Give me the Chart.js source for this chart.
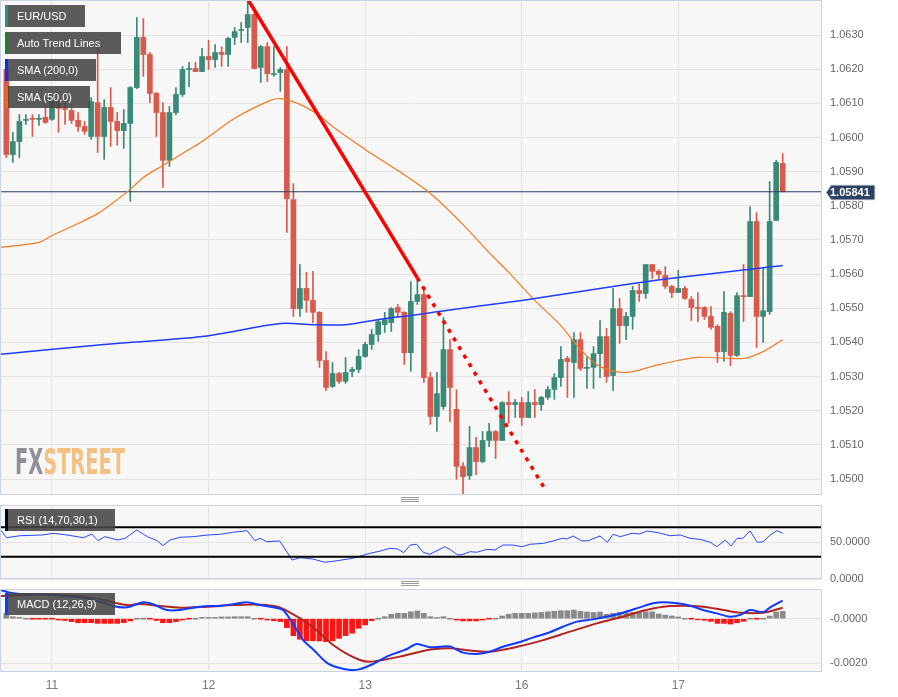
<!DOCTYPE html>
<html><head><meta charset="utf-8">
<script src="https://cdn.jsdelivr.net/npm/chart.js@4.4.1/dist/chart.umd.min.js"></script>
<style>
html,body{margin:0;padding:0;background:#fff}
body{width:898px;height:697px;overflow:hidden;position:relative;font-family:"Liberation Sans",Arial,sans-serif}
canvas{position:absolute;left:0}
.lg{position:absolute;left:5px;height:22px;line-height:22px;color:#fff;font-size:11px;background:rgba(70,70,70,0.88);padding-left:9px;box-sizing:border-box;border-left:3px solid #000;white-space:nowrap;z-index:5}
.wm{position:absolute;left:15px;top:444px;font-size:36px;line-height:36px;font-weight:bold;font-family:"Liberation Sans Narrow","DejaVu Sans Condensed","Liberation Sans",sans-serif;transform-origin:0 0;white-space:nowrap;z-index:4;letter-spacing:0px}
.hd{position:absolute;left:401px;width:18px;height:3px;border-top:1px solid #9a9a9a;border-bottom:1px solid #9a9a9a;z-index:5}
.hd:after{content:"";position:absolute;left:0;top:1px;width:18px;border-top:1px solid #9a9a9a}
</style>
</head><body>
<canvas id="cMain" width="898" height="495" style="top:0"></canvas>
<canvas id="cRsi" width="898" height="84" style="top:505px"></canvas>
<canvas id="cMacd" width="898" height="108" style="top:589px"></canvas>

<div class="lg" style="top:5px;width:80px;border-left-color:#3a8a78">EUR/USD</div>
<div class="lg" style="top:32px;width:116px;border-left-color:#0d8a1a">Auto Trend Lines</div>
<div class="lg" style="top:59px;width:91px;border-left-color:#0a2cff">SMA (200,0)</div>
<div class="lg" style="top:86px;width:85px;border-left-color:#f06a00">SMA (50,0)</div>
<div class="lg" style="top:509px;width:110px;border-left-color:#000">RSI (14,70,30,1)</div>
<div class="lg" style="top:593px;width:110px;border-left-color:#0b3bff">MACD (12,26,9)</div>
<div class="wm" id="wm"><span style="color:#8f9098">FX</span><span style="color:#f3c283">STREET</span></div>
<div class="hd" style="top:497px"></div>
<div class="hd" style="top:581px"></div>

<script>
const FONT = '"Liberation Sans", Arial, sans-serif';
const X_MIN = -0.97, X_MAX = 124.87;

const dayTicks = [7, 31, 55, 79, 103];
const dayLabels = ['11', '12', '13', '16', '17'];

const priceTicks = [1.0500,1.0510,1.0520,1.0530,1.0540,1.0550,1.0560,1.0570,1.0580,1.0590,1.0600,1.0610,1.0620,1.0630];
const priceTickLabels = ['1.0500','1.0510','1.0520','1.0530','1.0540','1.0550','1.0560','1.0570','1.0580','1.0590','1.0600','1.0610','1.0620','1.0630'];
const rsiTicks = [0, 50];
const rsiTickLabels = ['0.0000', '50.0000'];
const macdTicks = [-0.002, 0];
const macdTickLabels = ['-0.0020', '-0.0000'];

const lastPrice = 1.05841;

const opens = [1.06199,1.05950,1.05988,1.06050,1.06056,1.06053,1.06059,1.06053,1.06102,1.06085,
1.06079,1.06050,1.06032,1.06003,1.06102,1.06003,1.06088,1.06047,1.06020,1.06041,
1.06146,1.06293,1.06243,1.06129,1.06073,1.05933,1.06073,1.06126,1.06199,1.06202,
1.06193,1.06237,1.06228,1.06249,1.06243,1.06293,1.06313,1.06322,1.06360,1.06205,
1.06266,1.06184,1.06190,1.06199,1.05818,1.05499,1.05558,1.05523,1.05488,1.05347,
1.05271,1.05309,1.05286,1.05315,1.05321,1.05359,1.05394,1.05423,1.05452,1.05458,
1.05502,1.05488,1.05370,1.05520,1.05540,1.05297,1.05183,1.05212,1.05379,1.05204,
1.05037,1.05010,1.05092,1.05051,1.05113,1.05139,1.05113,1.05224,1.05218,1.05224,
1.05180,1.05224,1.05218,1.05239,1.05262,1.05297,1.05353,1.05341,1.05408,1.05324,
1.05327,1.05367,1.05417,1.05303,1.05499,1.05449,1.05476,1.05552,1.05543,1.05628,
1.05608,1.05596,1.05564,1.05546,1.05558,1.05526,1.05502,1.05502,1.05476,1.05447,
1.05373,1.05485,1.05362,1.05537,1.05534,1.05754,1.05476,1.05490,1.05757,1.05924];
const highs = [1.06205,1.06015,1.06067,1.06067,1.06067,1.06067,1.06094,1.06120,1.06111,1.06105,
1.06097,1.06073,1.06047,1.06117,1.06287,1.06111,1.06146,1.06073,1.06082,1.06149,
1.06351,1.06348,1.06249,1.06132,1.06102,1.06091,1.06146,1.06208,1.06220,1.06220,
1.06261,1.06284,1.06272,1.06266,1.06293,1.06322,1.06337,1.06398,1.06363,1.06269,
1.06278,1.06266,1.06205,1.06266,1.05865,1.05628,1.05605,1.05608,1.05490,1.05373,
1.05341,1.05312,1.05356,1.05327,1.05379,1.05400,1.05438,1.05467,1.05488,1.05502,
1.05511,1.05490,1.05578,1.05584,1.05555,1.05312,1.05312,1.05473,1.05408,1.05262,
1.05048,1.05154,1.05122,1.05139,1.05163,1.05142,1.05227,1.05256,1.05233,1.05239,
1.05256,1.05262,1.05242,1.05271,1.05309,1.05388,1.05359,1.05429,1.05429,1.05356,
1.05388,1.05464,1.05441,1.05558,1.05529,1.05488,1.05564,1.05570,1.05628,1.05628,
1.05613,1.05622,1.05567,1.05611,1.05564,1.05534,1.05546,1.05505,1.05505,1.05452,
1.05549,1.05490,1.05546,1.05628,1.05798,1.05780,1.05619,1.05871,1.05933,1.05953];
const lows = [1.05941,1.05927,1.05941,1.06038,1.06003,1.06035,1.06041,1.06050,1.06015,1.06038,
1.06041,1.06018,1.06009,1.05994,1.05956,1.05936,1.05974,1.05977,1.05968,1.05813,
1.06143,1.06179,1.06102,1.06003,1.05854,1.05915,1.06067,1.06120,1.06149,1.06193,
1.06193,1.06199,1.06205,1.06208,1.06208,1.06272,1.06278,1.06278,1.06202,1.06161,
1.06164,1.06179,1.06135,1.05722,1.05476,1.05476,1.05488,1.05458,1.05327,1.05259,
1.05268,1.05280,1.05280,1.05300,1.05312,1.05356,1.05379,1.05403,1.05429,1.05432,
1.05473,1.05335,1.05315,1.05511,1.05283,1.05160,1.05139,1.05204,1.05168,1.04999,
1.04955,1.04999,1.05013,1.05048,1.05095,1.05060,1.05113,1.05163,1.05180,1.05157,
1.05180,1.05180,1.05201,1.05233,1.05233,1.05271,1.05239,1.05239,1.05318,1.05265,
1.05265,1.05297,1.05283,1.05259,1.05397,1.05408,1.05438,1.05520,1.05529,1.05587,
1.05584,1.05558,1.05531,1.05546,1.05526,1.05464,1.05461,1.05467,1.05438,1.05341,
1.05344,1.05332,1.05359,1.05461,1.05534,1.05385,1.05400,1.05482,1.05757,1.05845];
const closes = [1.05950,1.05988,1.06047,1.06053,1.06053,1.06056,1.06044,1.06108,1.06085,1.06082,
1.06050,1.06032,1.06018,1.06105,1.06003,1.06088,1.06047,1.06020,1.06041,1.06146,
1.06293,1.06243,1.06129,1.06073,1.05933,1.06073,1.06126,1.06199,1.06202,1.06193,
1.06237,1.06228,1.06249,1.06243,1.06290,1.06310,1.06316,1.06360,1.06202,1.06266,
1.06187,1.06187,1.06199,1.05821,1.05499,1.05558,1.05523,1.05488,1.05347,1.05268,
1.05309,1.05286,1.05312,1.05321,1.05359,1.05394,1.05423,1.05461,1.05467,1.05499,
1.05488,1.05370,1.05520,1.05540,1.05297,1.05183,1.05250,1.05379,1.05268,1.05037,
1.05007,1.05092,1.05051,1.05113,1.05139,1.05113,1.05224,1.05218,1.05224,1.05180,
1.05224,1.05218,1.05239,1.05262,1.05297,1.05350,1.05344,1.05408,1.05324,1.05327,
1.05367,1.05417,1.05300,1.05499,1.05449,1.05476,1.05552,1.05543,1.05628,1.05608,
1.05599,1.05564,1.05546,1.05558,1.05529,1.05502,1.05499,1.05476,1.05444,1.05373,
1.05488,1.05362,1.05537,1.05534,1.05754,1.05476,1.05493,1.05754,1.05927,1.05841];

const sma200 = [[-1,1.05365],[0,1.05367],[15,1.05394],[30,1.05417],[42,1.05455],[47,1.05452],[52,1.05452],[58,1.05470],[62,1.05479],[66,1.05490],[79,1.05523],[93,1.05564],[103,1.05590],[119,1.05625]];
const sma50 = [[-1,1.05678],[5,1.05693],[7,1.05713],[11,1.05748],[14,1.05777],[16,1.05804],[19,1.05848],[21,1.05883],[24,1.05918],[27,1.05953],[30,1.05988],[35,1.06056],[40,1.06105],[42,1.06114],[45,1.06097],[48,1.06064],[50,1.06032],[55,1.05965],[60,1.05903],[65,1.05836],[70,1.05745],[74,1.05663],[77,1.05605],[81,1.05523],[85,1.05449],[88,1.05379],[91,1.05329],[95,1.05312],[100,1.05335],[106,1.05356],[113,1.05353],[116,1.05373],[119,1.05408]];
const trendSolid = [[37.04,1.06404],[63.0,1.05589]];
const trendDotted = [[63.0,1.05589],[82.7,1.04966]];

const rsiLevels = [70, 30];
const rsi = [[-0.97,67.2],[0.06,55.8],[2.1,58.5],[5.6,59.5],[7.2,61.8],[9.3,59.5],[11.8,55.8],[13.1,60.8],[14.05,51.8],[15.1,57.2],
[17.1,52.7],[18.2,55.0],[20.0,66.2],[21.6,57.2],[23.1,51.8],[24.0,45.0],[25.1,52.7],[26.6,56.4],[28.6,57.2],[30.9,59.5],
[32.8,60.4],[34.7,63.1],[36.9,65.3],[38.1,51.8],[38.9,55.0],[39.9,50.4],[41.9,51.4],[43.8,25.7],[45.0,28.8],[47.0,27.0],
[48.8,22.6],[50.7,24.7],[53.1,28.0],[55.3,33.8],[57.3,37.8],[58.8,41.5],[60.0,40.5],[60.9,35.5],[61.9,45.9],[62.9,46.9],
[63.9,36.1],[64.9,33.4],[67.2,43.6],[68.0,40.1],[69.2,32.4],[70.0,33.4],[71.1,36.9],[72.1,36.1],[73.7,40.1],[74.9,39.2],
[76.1,45.9],[77.7,45.9],[79.0,43.6],[80.3,46.9],[82.3,48.2],[83.8,51.4],[85.2,55.0],[85.9,54.1],[86.9,58.1],[88.2,51.4],
[89.2,51.8],[91.0,58.1],[92.1,49.6],[93.0,60.4],[94.1,57.2],[95.9,61.8],[97.1,60.8],[98.2,64.9],[99.9,62.6],[101.7,58.5],
[103.3,59.5],[104.8,55.0],[106.3,53.6],[107.9,49.6],[108.9,43.6],[110.2,52.7],[111.1,44.6],[112.0,55.0],[112.9,55.0],[114.0,64.9],
[115.1,49.6],[116.0,50.4],[117.1,59.5],[118.1,65.3],[119.0,61.8]];

const macdLine = [[-0.97,0.00129],[0.56,0.00117],[2.1,0.00111],[5.2,0.00109],[9.3,0.00102],[12.4,0.00091],[14.4,0.00076],[16.3,0.00057],[18.5,0.00051],[21.0,0.00074],
[22.5,0.00065],[24.6,0.00039],[26.6,0.00039],[29.7,0.00054],[32.8,0.00058],[34.7,0.00065],[36.9,0.00074],[38.9,0.00061],[40.9,0.00051],[42.4,0.00039],
[43.9,-0.00021],[45.5,-0.00096],[47.0,-0.00137],[49.1,-0.00197],[50.7,-0.00218],[52.7,-0.00230],[54.2,-0.00226],[56.2,-0.00203],[58.3,-0.00170],[60.3,-0.00148],
[61.4,-0.00136],[62.9,-0.00113],[64.9,-0.00128],[66.5,-0.00126],[68.0,-0.00124],[70.0,-0.00152],[72.1,-0.00158],[74.1,-0.00148],[76.1,-0.00126],[78.3,-0.00108],
[80.7,-0.00085],[83.3,-0.00061],[85.3,-0.00036],[87.5,-0.00013],[89.9,-0.00003],[92.5,0.00012],[94.5,0.00027],[97.1,0.00051],[99.1,0.00069],[100.7,0.00074],
[102.8,0.00069],[104.8,0.00058],[106.8,0.00039],[108.9,0.00024],[110.9,0.00009],[112.5,0.00017],[114.0,0.00039],[116.0,0.00029],[117.1,0.00051],[119.0,0.00081]];
const signalLine = [[-0.97,0.00102],[2.1,0.00106],[6.7,0.00109],[11.8,0.00099],[14.4,0.00087],[18.5,0.00061],[20.5,0.00066],[23.6,0.00057],[26.6,0.00049],[30.8,0.00054],
[34.7,0.00061],[37.8,0.00064],[39.9,0.00061],[41.9,0.00051],[43.9,0.00021],[46.1,-0.00018],[48.1,-0.00065],[50.1,-0.00118],[52.2,-0.00158],[54.2,-0.00185],
[55.7,-0.00193],[57.7,-0.00185],[60.3,-0.00170],[63.4,-0.00148],[65.4,-0.00137],[68.0,-0.00133],[71.1,-0.00143],[74.1,-0.00148],[78.3,-0.00126],[82.3,-0.00096],
[86.4,-0.00058],[90.5,-0.00021],[94.5,0.00009],[97.6,0.00036],[100.7,0.00054],[103.7,0.00058],[106.8,0.00054],[109.9,0.00039],[112.5,0.00027],[116.0,0.00027],[119.0,0.00049]];
const macdHist = [0.00024,0.00009,0.00006,0.00003,-0.00001,-0.00002,-0.00003,-0.00004,-0.00006,-0.00008,
-0.00013,-0.00018,-0.00018,-0.00018,-0.00021,-0.00021,-0.00021,-0.00021,-0.00018,-0.00010,
0.00003,0.00003,-0.00001,-0.00008,-0.00018,-0.00018,-0.00013,-0.00006,-0.00001,0.00004,
0.00006,0.00006,0.00006,0.00008,0.00008,0.00009,0.00009,0.00009,0.00003,-0.00001,
-0.00006,-0.00009,-0.00013,-0.00040,-0.00076,-0.00092,-0.00099,-0.00099,-0.00100,-0.00103,
-0.00099,-0.00088,-0.00076,-0.00065,-0.00043,-0.00028,-0.00009,0.00002,0.00009,0.00020,
0.00024,0.00024,0.00031,0.00035,0.00024,0.00009,0.00006,0.00009,0.00004,-0.00006,
-0.00010,-0.00010,-0.00010,-0.00006,-0.00001,0.00002,0.00012,0.00020,0.00024,0.00024,
0.00024,0.00026,0.00028,0.00031,0.00033,0.00036,0.00036,0.00039,0.00033,0.00030,
0.00028,0.00030,0.00020,0.00024,0.00028,0.00028,0.00028,0.00028,0.00031,0.00031,
0.00021,0.00016,0.00012,0.00008,0.00002,-0.00001,-0.00005,-0.00007,-0.00012,-0.00021,
-0.00021,-0.00024,-0.00018,-0.00012,0.00004,-0.00001,0.00001,0.00012,0.00030,0.00033];

const UP = '#3a8a78', DOWN = '#d9594b';
const idx = opens.map((_, i) => i);
const candleColor = idx.map(i => closes[i] >= opens[i] ? UP : DOWN);
const pts = arr => arr.map(p => ({x: p[0], y: p[1]}));
const flat = v => [{x: X_MIN, y: v}, {x: X_MAX, y: v}];

const panelPlugin = {
  id: 'panel',
  beforeDraw(c) {
    const a = c.chartArea, ctx = c.ctx;
    ctx.save(); ctx.fillStyle = '#f7f7f7';
    ctx.fillRect(a.left, a.top, a.right - a.left, a.bottom - a.top); ctx.restore();
  },
  afterDraw(c) {
    const a = c.chartArea, ctx = c.ctx;
    ctx.save(); ctx.strokeStyle = '#cbd2e3'; ctx.lineWidth = 1;
    ctx.strokeRect(a.left + 0.5, a.top + 0.5, a.right - a.left, a.bottom - a.top - 1); ctx.restore();
  }
};

const priceLabelPlugin = {
  id: 'priceLabel',
  afterDraw(c) {
    const ctx = c.ctx, a = c.chartArea;
    const y = Math.round(c.scales.y.getPixelForValue(lastPrice)) + 0.5;
    const x0 = a.right + 5, x1 = x0 + 5, x2 = x0 + 49;
    ctx.save();
    ctx.fillStyle = '#2d4263'; ctx.strokeStyle = '#dfe4ee'; ctx.lineWidth = 1;
    ctx.beginPath(); ctx.moveTo(x0, y); ctx.lineTo(x1, y - 7.5); ctx.lineTo(x2, y - 7.5);
    ctx.lineTo(x2, y + 7.5); ctx.lineTo(x1, y + 7.5); ctx.closePath(); ctx.fill(); ctx.stroke();
    ctx.fillStyle = '#fff'; ctx.font = 'bold 11px ' + FONT; ctx.textBaseline = 'middle';
    ctx.fillText(lastPrice.toFixed(5), x1 - 1, y + 0.5);
    ctx.restore();
  }
};

function opts(yMin, yMax, yTicks, yLabels, showX, xHeight) {
  return {
    responsive: false, animation: false, devicePixelRatio: 1,
    layout: {padding: 0},
    plugins: {legend: {display: false}, tooltip: {enabled: false}},
    elements: {point: {radius: 0}},
    scales: {
      x: {
        type: 'linear', min: X_MIN, max: X_MAX, offset: false,
        grid: {color: '#e4e4e4', drawTicks: false, offset: false},
        border: {display: false},
        ticks: {display: showX, font: {size: 12, family: FONT}, color: '#777', padding: 6, maxRotation: 0, autoSkip: false,
          callback: v => { const k = dayTicks.indexOf(v); return k >= 0 ? dayLabels[k] : ''; }},
        afterBuildTicks: s => { s.ticks = dayTicks.map(v => ({value: v})); },
        afterFit: s => { s.height = xHeight; s.paddingLeft = 0; s.paddingRight = 0; }
      },
      y: {
        type: 'linear', position: 'right', min: yMin, max: yMax,
        grid: {color: '#e4e4e4', drawTicks: false},
        border: {display: false},
        ticks: {font: {size: 11, family: FONT}, color: '#666', padding: 9, autoSkip: false,
          callback: v => { const k = yTicks.indexOf(v); return k >= 0 ? yLabels[k] : ''; }},
        afterBuildTicks: s => { s.ticks = yTicks.map(v => ({value: v})); },
        afterFit: s => { s.width = 77; s.paddingTop = 0; s.paddingBottom = 0; }
      }
    }
  };
}

// Main price chart
new Chart(document.getElementById('cMain'), {
  type: 'line',
  data: {
    datasets: [
      {type: 'line', data: pts(trendSolid), borderColor: '#ff0000', borderWidth: 3.5, pointRadius: 0, order: 1},
      {type: 'line', data: pts(trendDotted), borderColor: '#ff0000', borderWidth: 3.5, borderDash: [4, 6], pointRadius: 0, order: 1},
      {type: 'line', data: pts(sma200), borderColor: '#1f3cff', borderWidth: 1.5, pointRadius: 0, tension: 0.3, order: 2},
      {type: 'line', data: pts(sma50), borderColor: '#f47a22', borderWidth: 1.2, pointRadius: 0, tension: 0.3, order: 3},
      {type: 'line', data: flat(lastPrice), borderColor: '#2b3d5b', borderWidth: 1, pointRadius: 0, order: 4},
      {type: 'bar', data: idx.map(i => ({x: i, y: [opens[i], closes[i]]})), backgroundColor: candleColor,
        barThickness: 5, grouped: false, minBarLength: 1, borderWidth: 0, order: 5},
      {type: 'bar', data: idx.map(i => ({x: i, y: [lows[i], highs[i]]})), backgroundColor: candleColor,
        barThickness: 1, grouped: false, borderWidth: 0, order: 6}
    ]
  },
  options: opts(1.049532, 1.064025, priceTicks, priceTickLabels, false, 0),
  plugins: [panelPlugin, priceLabelPlugin]
});

// RSI chart
new Chart(document.getElementById('cRsi'), {
  type: 'line',
  data: {
    datasets: [
      {data: pts(rsi), borderColor: '#2a48ff', borderWidth: 1, pointRadius: 0, order: 2},
      ...rsiLevels.map(l => ({data: flat(l), borderColor: '#000', borderWidth: 2, pointRadius: 0, order: 1}))
    ]
  },
  options: opts(0, 100, rsiTicks, rsiTickLabels, false, 10),
  plugins: [panelPlugin]
});

// MACD chart
new Chart(document.getElementById('cMacd'), {
  type: 'line',
  data: {
    datasets: [
      {type: 'line', data: pts(signalLine), borderColor: '#b4241f', borderWidth: 2, pointRadius: 0, tension: 0.3, order: 2},
      {type: 'line', data: pts(macdLine), borderColor: '#0e3bff', borderWidth: 2, pointRadius: 0, tension: 0.3, order: 1},
      {type: 'bar', data: idx.map(i => ({x: i, y: [0, macdHist[i]]})),
        backgroundColor: idx.map(i => macdHist[i] >= 0 ? '#8a8a8a' : '#ff1414'),
        barThickness: 5, grouped: false, minBarLength: 1, borderWidth: 0, order: 3}
    ]
  },
  options: opts(-0.00239, 0.001332, macdTicks, macdTickLabels, true, 25),
  plugins: [panelPlugin]
});

// fit watermark width
const wm = document.getElementById('wm');
const w = wm.getBoundingClientRect().width;
wm.style.transform = 'scaleX(' + (110 / w) + ')';
</script>
</body></html>
